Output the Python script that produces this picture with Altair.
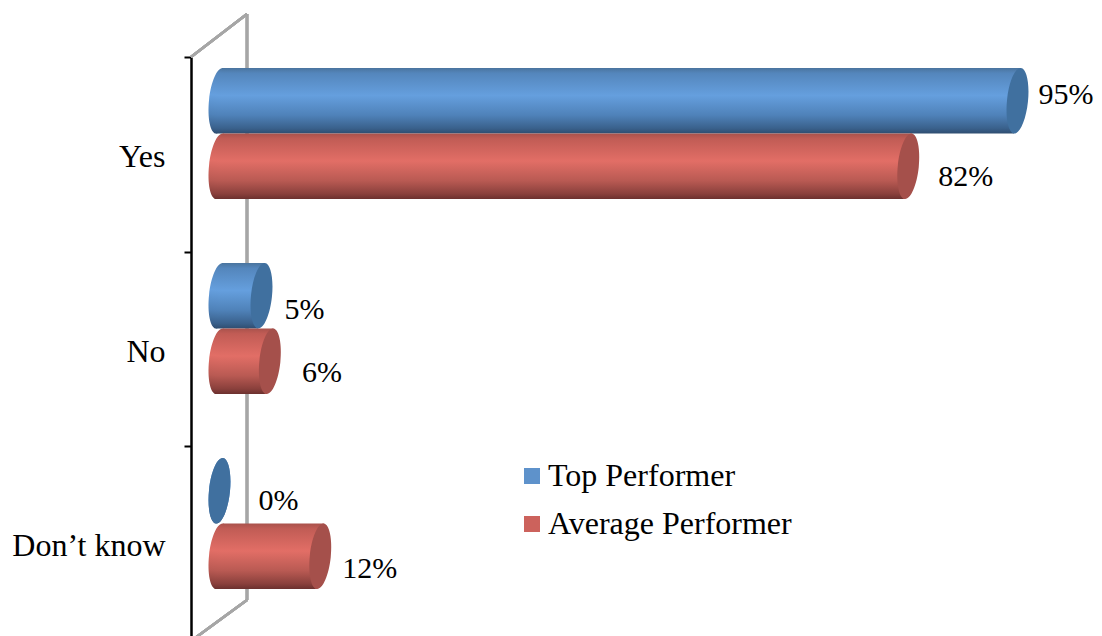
import altair as alt
import pandas as pd

CATEGORIES = ["Yes", "No", "Don’t know"]
SERIES = ["Top Performer", "Average Performer"]
TOP_VALUES = [95, 5, 0]
AVERAGE_VALUES = [82, 6, 12]

FONT = "Liberation Serif"
FS = 32
FS_LABEL = 30
W, H = 903, 584
PX_PER_UNIT = 8.4        # x scale: pixels per percentage point
ZERO_PX = 28.5           # where 0 % sits inside the plot area
SLOT_PX = 65.5           # height of one cylinder
SLOT_TOP_PX = 11         # top of first cylinder in the plot area
GROUP_STEP = 195 / SLOT_PX
SKEW = 3.5 / PX_PER_UNIT # the 3-D view leans each cylinder slightly
CAP_ANGLE = 6

x_scale = alt.Scale(domain=[-ZERO_PX / PX_PER_UNIT, (W - ZERO_PX) / PX_PER_UNIT], nice=False, zero=False)
y_scale = alt.Scale(domain=[-SLOT_TOP_PX / SLOT_PX, (H - SLOT_TOP_PX) / SLOT_PX], reverse=True, nice=False, zero=False)

rows, body = [], []
for s, (name, vals) in enumerate(zip(SERIES, [TOP_VALUES, AVERAGE_VALUES])):
    for c, (cat, v) in enumerate(zip(CATEGORIES, vals)):
        top = c * GROUP_STEP + s
        rows.append(dict(category=cat, series=name, value=v, zero=0, mid=top + 0.5, label=f"{v}%"))
        if v > 0:
            body.append(dict(category=cat, series=name, slot=top, x0=SKEW, x1=v + SKEW))
            body.append(dict(category=cat, series=name, slot=top + 1, x0=-SKEW, x1=v - SKEW))
df = pd.DataFrame(rows)
df_body = pd.DataFrame(body)


def grad(stops):
    return alt.Gradient(gradient="linear", x1=0, y1=0, x2=0, y2=1,
                        stops=[alt.GradientStop(offset=o, color=c) for o, c in stops])


GRADS = {
    "Top Performer": grad([(0, "#4A749E"), (0.08, "#5486BC"), (0.42, "#659FDE"), (0.72, "#4F82B9"), (0.92, "#3A618C"), (1, "#2F4D70")]),
    "Average Performer": grad([(0, "#A9524C"), (0.08, "#C15C55"), (0.42, "#E26E66"), (0.72, "#B95A53"), (0.92, "#8A403C"), (1, "#6B302E")]),
}
CAP_COLOR = {"Top Performer": "#40709F", "Average Performer": "#A5504B"}
LEGEND_COLOR = ["#5E92CB", "#CC625C"]
ELLIPSE = "M0,-1A0.318,1 0 1,1 0,1A0.318,1 0 1,1 0,-1Z"
CAP_SIZE = 66 ** 2

X = lambda f: alt.X(f, scale=x_scale, axis=None, title=None)
Y = lambda f: alt.Y(f, scale=y_scale, axis=None, title=None)

# back wall of the 3-D plot
WALL = "#A6A6A6"
wall = [
    alt.Chart(df).mark_rule(color=WALL, strokeWidth=2.5).encode(
        x=alt.value(x1), x2=alt.value(x2), y=alt.value(y1), y2=alt.value(y2))
    for x1, y1, x2, y2 in [(0, 0, 56, -43), (56, -43, 56, 543), (56, 543, 0, 584)]
]

# category axis
axis_layer = alt.Chart(df).mark_point(opacity=0).encode(
    y=alt.Y("category:N", sort=CATEGORIES, title=None,
            scale=alt.Scale(type="band", domain=CATEGORIES, range=[0, H], padding=0),
            axis=alt.Axis(domainColor="black", domainWidth=2.5, tickColor="black", tickWidth=2, tickSize=7,
                          tickBand="extent", labelFont=FONT, labelFontSize=FS, labelColor="black",
                          labelPadding=19, labelOffset=2, grid=False, labelLimit=300, title=None)),
)

# invisible layer that carries the legend
legend_layer = alt.Chart(df).mark_point(opacity=0, filled=True).encode(
    x=X("value:Q"), y=Y("mid:Q"),
    color=alt.Color("series:N", scale=alt.Scale(domain=SERIES, range=LEGEND_COLOR),
                    legend=alt.Legend(orient="none", legendX=325, legendY=403, title=None,
                                      symbolType="square", symbolSize=256, symbolOpacity=1, symbolStrokeWidth=0,
                                      labelFont=FONT, labelFontSize=FS, labelColor="black", labelLimit=400,
                                      labelOffset=0, rowPadding=16)),
)

cyl = []
for name in SERIES:
    sub = df[df.series == name]
    sub_body = df_body[df_body.series == name]
    cyl.append(alt.Chart(sub).mark_point(shape=ELLIPSE, size=CAP_SIZE, filled=True, opacity=1, strokeWidth=0,
                                         fill=GRADS[name], angle=CAP_ANGLE).encode(x=X("zero:Q"), y=Y("mid:Q")))
    cyl.append(alt.Chart(sub_body).mark_area(fill=GRADS[name], orient="horizontal", opacity=1).encode(
        x=alt.X("x0:Q", scale=x_scale, axis=None, title=None, stack=None), x2="x1:Q",
        y=Y("slot:Q"), detail="category:N"))
    cyl.append(alt.Chart(sub).mark_point(shape=ELLIPSE, size=CAP_SIZE, filled=True, opacity=1, strokeWidth=0,
                                         fill=CAP_COLOR[name], angle=CAP_ANGLE).encode(x=X("value:Q"), y=Y("mid:Q")))

# label placement as drawn in the source (px from the end of each cylinder)
NUDGE = {
    ("Top Performer", "Yes"): (21, -6), ("Average Performer", "Yes"): (30, 11),
    ("Top Performer", "No"): (23, 14), ("Average Performer", "No"): (32, 12),
    ("Top Performer", "Don’t know"): (39, 10), ("Average Performer", "Don’t know"): (22, 13),
}
labels = [
    alt.Chart(df[(df.series == s) & (df.category == c)]).mark_text(
        font=FONT, fontSize=FS_LABEL, color="black", align="left", baseline="middle", dx=dx, dy=dy
    ).encode(x=X("value:Q"), y=Y("mid:Q"), text="label:N")
    for (s, c), (dx, dy) in NUDGE.items()
]

chart = alt.layer(*wall, axis_layer, legend_layer, *cyl, *labels).resolve_scale(y="independent").properties(
    width=W, height=H,
    padding={"left": 183, "top": 49, "right": 0, "bottom": 0},
    autosize=alt.AutoSizeParams(type="none"),
    background="white",
).configure_view(stroke=None)

chart.save("out.html", embed_options={"renderer": "svg", "actions": False})
